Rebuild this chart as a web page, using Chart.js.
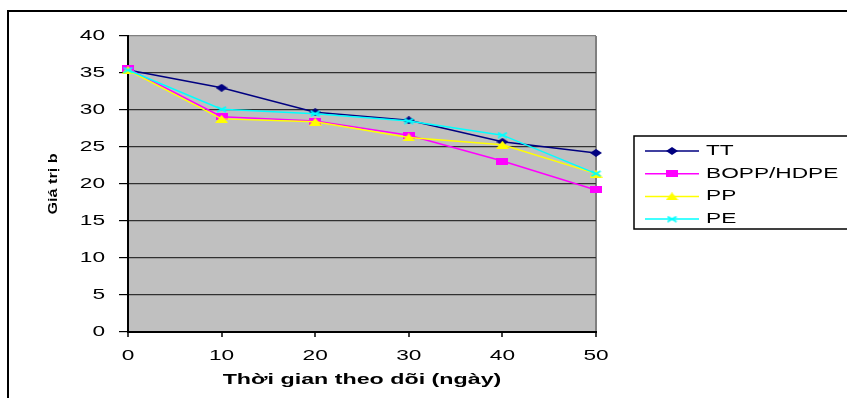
<!DOCTYPE html>
<html lang="vi">
<head>
    <meta charset="UTF-8">
    <title>Giá trị b theo thời gian</title>
    <script src="https://cdn.jsdelivr.net/npm/chart.js"></script>
    <style>
        body { margin: 0; background: #fff; }
        canvas { display: block; }
    </style>
</head>
<body>
    <canvas id="chart" width="847" height="398"></canvas>

    <script>
        const days = ['0', '10', '20', '30', '40', '50'];
        const tt = [35.4, 33.0, 29.7, 28.6, 25.7, 24.2];
        const bopp = [35.6, 29.1, 28.5, 26.6, 23.1, 19.2];
        const pp = [35.4, 28.8, 28.4, 26.3, 25.3, 21.4];
        const pe = [35.4, 30.1, 29.5, 28.5, 26.6, 21.4];

        const FONT = "'Liberation Sans', Arial, sans-serif";
        // horizontal stretch of the text, by font size (the original is drawn wide)
        const stretch = { 14: 1.62, 15: 1.55, 12: 1.35 };

        // small stretched marker shapes
        function marker(shape, color, w, h) {
            const c = document.createElement('canvas');
            c.width = w; c.height = h;
            const g = c.getContext('2d');
            g.fillStyle = color; g.strokeStyle = color;
            g.beginPath();
            if (shape === 'diamond') {
                g.moveTo(w / 2, 0); g.lineTo(w, h / 2); g.lineTo(w / 2, h); g.lineTo(0, h / 2);
                g.closePath(); g.fill();
            } else if (shape === 'square') {
                g.fillRect(0, 0, w, h);
            } else if (shape === 'triangle') {
                g.moveTo(w / 2, 0); g.lineTo(w, h); g.lineTo(0, h);
                g.closePath(); g.fill();
            } else {
                g.lineWidth = 2;
                g.moveTo(1, 1); g.lineTo(w - 1, h - 1);
                g.moveTo(w - 1, 1); g.lineTo(1, h - 1);
                g.stroke();
            }
            return c;
        }

        function series(label, data, color, style, order) {
            return {
                label: label,
                data: data,
                borderColor: color,
                backgroundColor: color,
                borderWidth: 1.5,
                pointStyle: style,
                pointRadius: 5,
                order: order,
                clip: false,
                tension: 0
            };
        }

        const canvas = document.getElementById('chart');
        const ctx = canvas.getContext('2d');
        const rawFill = CanvasRenderingContext2D.prototype.fillText;
        ctx.fillText = function (text, x, y) {
            const m = /(\d+(?:\.\d+)?)px/.exec(this.font);
            const sx = (m && stretch[Math.round(+m[1])]) || 1;
            this.save();
            this.translate(x, y);
            this.scale(sx, 1);
            rawFill.call(this, text, 0, 0);
            this.restore();
        };

        const framePlugin = {
            id: 'frame',
            beforeDraw(chart) {
                const c = chart.ctx, a = chart.chartArea;
                c.save();
                c.strokeStyle = '#000';
                c.lineWidth = 2;
                c.strokeRect(8, 11, 1000, 1000);
                c.fillStyle = '#C0C0C0';
                c.fillRect(a.left, a.top, a.right - a.left, a.bottom - a.top);
                c.restore();
            },
            afterDraw(chart) {
                const c = chart.ctx;
                c.save();
                c.strokeStyle = '#000';
                c.lineWidth = 1.5;
                c.strokeRect(634, 136, 400, 93);
                c.font = '14px ' + FONT;
                c.textBaseline = 'middle';
                c.textAlign = 'left';
                chart.data.datasets.forEach((ds, i) => {
                    const y = 151 + i * 22.7;
                    c.strokeStyle = ds.borderColor;
                    c.lineWidth = 1.5;
                    c.beginPath();
                    c.moveTo(645, y); c.lineTo(699, y);
                    c.stroke();
                    const img = ds.pointStyle;
                    c.drawImage(img, 672 - img.width / 2, y - img.height / 2);
                    c.fillStyle = '#000';
                    c.fillText(ds.label, 706, y);
                });
                c.restore();
            }
        };

        new Chart(ctx, {
            type: 'line',
            data: {
                labels: days,
                datasets: [
                    series('TT', tt, '#000080', marker('diamond', '#000080', 12, 8), 4),
                    series('BOPP/HDPE', bopp, '#FF00FF', marker('square', '#FF00FF', 12, 7), 3),
                    series('PP', pp, '#FFFF00', marker('triangle', '#FFFF00', 13, 8), 2),
                    series('PE', pe, '#00FFFF', marker('cross', '#00FFFF', 11, 7), 1)
                ]
            },
            options: {
                responsive: false,
                animation: false,
                layout: { padding: { left: 40, top: 36, right: 251, bottom: 0 } },
                plugins: {
                    legend: { display: false },
                    tooltip: { enabled: false }
                },
                scales: {
                    x: {
                        offset: false,
                        afterFit: s => { s.height = 66; },
                        border: { color: '#000', width: 2 },
                        grid: {
                            color: c => c.index === days.length - 1 ? '#808080' : 'rgba(0,0,0,0)',
                            lineWidth: 2,
                            tickColor: '#000',
                            tickWidth: 1.5,
                            tickLength: 5
                        },
                        ticks: {
                            color: '#000',
                            padding: 11,
                            maxRotation: 0,
                            autoSkip: false,
                            font: { family: FONT, size: 14 }
                        },
                        title: {
                            display: true,
                            text: 'Thời gian theo dõi (ngày)',
                            color: '#000',
                            padding: { top: 0, bottom: 9 },
                            font: { family: FONT, size: 15, weight: 'bold' }
                        }
                    },
                    y: {
                        min: 0,
                        max: 40,
                        afterFit: s => { s.width = 88; },
                        border: { color: '#000', width: 2 },
                        grid: {
                            color: c => c.tick && c.tick.value === 40 ? '#808080' : '#303030',
                            lineWidth: 1.2,
                            tickColor: '#000',
                            tickLength: 9
                        },
                        ticks: {
                            stepSize: 5,
                            color: '#000',
                            padding: 14,
                            font: { family: FONT, size: 14 }
                        },
                        title: {
                            display: true,
                            text: 'Giá trị b',
                            color: '#000',
                            padding: { top: 6, bottom: 0 },
                            font: { family: FONT, size: 12, weight: 'bold' }
                        }
                    }
                }
            },
            plugins: [framePlugin]
        });
    </script>
</body>
</html>
